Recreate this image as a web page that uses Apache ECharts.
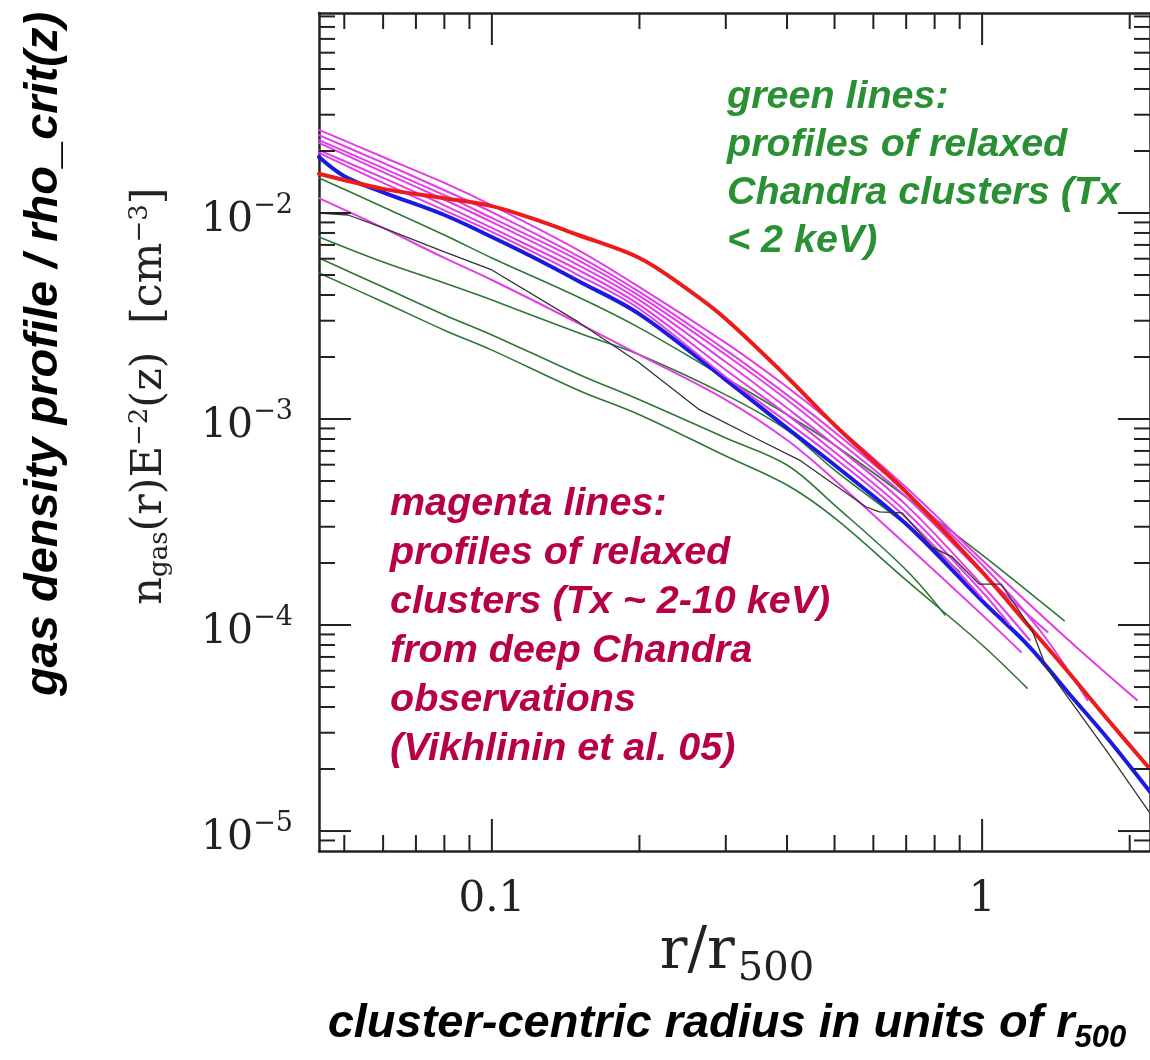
<!DOCTYPE html>
<html>
<head>
<meta charset="utf-8">
<script src="https://cdn.jsdelivr.net/npm/echarts@6/dist/echarts.min.js"></script>
<style>
  html, body { margin: 0; padding: 0; background: #fff; }
  #chart { width: 1150px; height: 1060px; }
</style>
</head>
<body>
<div id="chart"></div>
<script>
// Axis ranges (r / r500 and n_gas E^-2(z) in cm^-3)
const R_MIN = 0.0444, R_MAX = 2.2;
const N_MIN = 8e-6, N_MAX = 0.0935;

// Tick positions
const rMajorTicks = [0.1, 1];
const rMinorTicks = [0.05, 0.06, 0.07, 0.08, 0.09, 0.2, 0.3, 0.4, 0.5, 0.6, 0.7, 0.8, 0.9, 2];
const nMajorTicks = [1e-5, 1e-4, 1e-3, 1e-2];
const nMinorTicks = [
  9e-6,
  2e-5, 3e-5, 4e-5, 5e-5, 6e-5, 7e-5, 8e-5, 9e-5,
  2e-4, 3e-4, 4e-4, 5e-4, 6e-4, 7e-4, 8e-4, 9e-4,
  2e-3, 3e-3, 4e-3, 5e-3, 6e-3, 7e-3, 8e-3, 9e-3,
  2e-2, 3e-2, 4e-2, 5e-2, 6e-2, 7e-2, 8e-2, 9e-2
];

// Red profile
const redR = [0.0444, 0.06, 0.08, 0.1, 0.12, 0.15, 0.2, 0.25, 0.3, 0.4, 0.5, 0.7, 1.0, 1.25, 1.5, 1.8, 2.2];
const redN = [0.0155, 0.0131, 0.0118, 0.0108, 0.00946, 0.00782, 0.00605, 0.00428, 0.00306, 0.0016, 0.000935, 0.000442, 0.000181, 9.78e-5, 5.9e-5, 3.5e-5, 2.0e-5];

// Blue profile
const blueR = [0.0444, 0.05, 0.06, 0.08, 0.1, 0.12, 0.15, 0.2, 0.3, 0.4, 0.5, 0.7, 1.0, 1.25, 1.5, 1.8, 2.2];
const blueN = [0.0187, 0.0151, 0.0126, 0.00978, 0.00765, 0.00618, 0.00468, 0.00323, 0.00155, 0.000904, 0.000598, 0.000309, 0.000131, 7.82e-5, 4.68e-5, 2.83e-5, 1.55e-5];

// Black profile
const blackR = [0.0444, 0.0509, 0.06, 0.08, 0.1, 0.15, 0.2, 0.265, 0.351, 0.424, 0.58, 0.617, 0.687, 0.791, 0.869, 0.986, 1.093, 1.264, 1.35, 1.79, 2.2];
const blackN = [0.0100, 0.00978, 0.00846, 0.00647, 0.00529, 0.00296, 0.00187, 0.00111, 0.000791, 0.000632, 0.000374, 0.000354, 0.000350, 0.000239, 0.000214, 0.000158, 0.000158, 9.46e-5, 6.25e-5, 2.47e-5, 1.22e-5];

// Green profiles: relaxed Chandra clusters, Tx < 2 keV
const green1R = [0.0444, 0.06, 0.08, 0.1, 0.15, 0.2, 0.3, 0.4, 0.5, 0.7, 1.0, 1.47];
const green1N = [0.0148, 0.0107, 0.00782, 0.00605, 0.00391, 0.00277, 0.00158, 0.00105, 0.000748, 0.000418, 0.000219, 0.000105];
const green2R = [0.0444, 0.06, 0.08, 0.1, 0.15, 0.2, 0.3, 0.4, 0.5, 0.7, 0.9];
const green2N = [0.00765, 0.00578, 0.00457, 0.00378, 0.00262, 0.00205, 0.00131, 0.000884, 0.000565, 0.000306, 0.000181];
const green3R = [0.0444, 0.06, 0.08, 0.1, 0.15, 0.2, 0.3, 0.4, 0.5, 0.7, 0.84];
const green3N = [0.00605, 0.00437, 0.00320, 0.00256, 0.00165, 0.00124, 0.000809, 0.000598, 0.000382, 0.000185, 0.000112];
const green4R = [0.0444, 0.06, 0.08, 0.1, 0.15, 0.2, 0.3, 0.4, 0.5, 0.7, 1.0, 1.235];
const green4N = [0.00511, 0.00370, 0.00270, 0.00216, 0.00138, 0.00105, 0.000661, 0.000478, 0.000331, 0.000165, 8.0e-5, 4.94e-5];

// Magenta profiles: relaxed clusters, Tx ~ 2-10 keV (Vikhlinin et al. 05)
const mag1R = [0.0444, 0.06, 0.08, 0.1, 0.15, 0.2, 0.3, 0.4, 0.5, 0.7, 1.0, 1.5, 2.07];
const mag1N = [0.0253, 0.0187, 0.0140, 0.0109, 0.00661, 0.00437, 0.00234, 0.00143, 0.000935, 0.000465, 0.000207, 8.46e-5, 4.32e-5];
const mag2R = [0.0444, 0.06, 0.08, 0.1, 0.15, 0.2, 0.3, 0.4, 0.5, 0.7, 1.0, 1.31, 1.64];
const mag2N = [0.0239, 0.0175, 0.0129, 0.0101, 0.00618, 0.00414, 0.00216, 0.00131, 0.000865, 0.000440, 0.000196, 9.46e-5, 4.32e-5];
const mag3R = [0.0444, 0.06, 0.08, 0.1, 0.15, 0.2, 0.3, 0.4, 0.5, 0.7, 1.0, 1.36];
const mag3N = [0.0226, 0.0165, 0.0122, 0.00946, 0.00591, 0.00396, 0.00205, 0.00124, 0.000809, 0.000418, 0.000179, 9.25e-5];
const mag4R = [0.0444, 0.06, 0.08, 0.1, 0.15, 0.2, 0.3, 0.4, 0.5, 0.7, 1.0, 1.25];
const mag4N = [0.0219, 0.0158, 0.0116, 0.00904, 0.00559, 0.00378, 0.00189, 0.00113, 0.000748, 0.000382, 0.000156, 8.46e-5];
const mag5R = [0.0444, 0.06, 0.08, 0.1, 0.15, 0.2, 0.3, 0.4, 0.5, 0.7, 1.0, 1.14];
const mag5N = [0.0202, 0.0148, 0.0109, 0.00846, 0.00529, 0.00358, 0.00173, 0.00105, 0.000692, 0.000354, 0.000145, 0.0001];
const mag6R = [0.0444, 0.06, 0.08, 0.1, 0.15, 0.2, 0.3, 0.4, 0.5, 0.7, 1.0];
const mag6N = [0.0196, 0.0140, 0.0103, 0.00809, 0.00500, 0.00342, 0.0016, 0.000967, 0.000647, 0.000331, 0.000135];
const mag7R = [0.0444, 0.06, 0.08, 0.1, 0.15, 0.2, 0.3, 0.4, 0.5, 0.7, 1.0, 1.2];
const mag7N = [0.0118, 0.00846, 0.00605, 0.00473, 0.00292, 0.00205, 0.00124, 0.000791, 0.000506, 0.000245, 0.000112, 7.4e-5];

// Annotation texts
const greenNote = ['green lines:', 'profiles of relaxed', 'Chandra clusters (Tx', '< 2 keV)'];
const magentaNote = ['magenta lines:', 'profiles of relaxed', 'clusters (Tx ~ 2-10 keV)', 'from deep Chandra', 'observations', '(Vikhlinin et al. 05)'];

const INK = '#222';
const SERIF = '"DejaVu Serif", serif';
const SANS = '"Liberation Sans", Arial, sans-serif';

function profile(r, n, color, width, z, smooth) {
  return {
    type: 'line',
    data: r.map((x, i) => [x, n[i]]),
    showSymbol: false,
    symbol: 'none',
    smooth: smooth,
    lineStyle: { color: color, width: width, cap: 'round', join: 'round' },
    z: z,
    silent: true,
    clip: true
  };
}

const GREEN = '#2e7636', MAGENTA = '#e23ee6';
const series = [
  profile(green1R, green1N, GREEN, 1.6, 2, 0.35),
  profile(green2R, green2N, GREEN, 1.6, 2, 0.35),
  profile(green3R, green3N, GREEN, 1.6, 2, 0.35),
  profile(green4R, green4N, GREEN, 1.6, 2, 0.35),
  profile(blueR, blueN, '#1a1ae0', 4, 3, 0.35),
  profile(mag1R, mag1N, MAGENTA, 2, 4, 0.35),
  profile(mag2R, mag2N, MAGENTA, 2, 4, 0.35),
  profile(mag3R, mag3N, MAGENTA, 2, 4, 0.35),
  profile(mag4R, mag4N, MAGENTA, 2, 4, 0.35),
  profile(mag5R, mag5N, MAGENTA, 2, 4, 0.35),
  profile(mag6R, mag6N, MAGENTA, 2, 4, 0.35),
  profile(mag7R, mag7N, MAGENTA, 2, 4, 0.35),
  profile(redR, redN, '#ec1c1c', 4, 5, 0.35),
  profile(blackR, blackN, '#333333', 1.3, 6, false),
  // inward ticks on the bottom and top frame
  {
    type: 'custom',
    silent: true,
    z: 10,
    data: rMajorTicks.map(v => [v, N_MIN, 1]).concat(rMinorTicks.map(v => [v, N_MIN, 0])),
    encode: { x: 0, y: 1 },
    renderItem: function (params, api) {
      const v = api.value(0);
      const len = api.value(2) ? 32 : 16;
      const b = api.coord([v, N_MIN]);
      const t = api.coord([v, N_MAX]);
      const style = { stroke: INK, lineWidth: 2 };
      return {
        type: 'group',
        children: [
          { type: 'line', shape: { x1: b[0], y1: b[1], x2: b[0], y2: b[1] - len }, style: style },
          { type: 'line', shape: { x1: t[0], y1: t[1], x2: t[0], y2: t[1] + len }, style: style }
        ]
      };
    }
  },
  // inward ticks on the left and right frame
  {
    type: 'custom',
    silent: true,
    z: 10,
    data: nMajorTicks.map(v => [R_MIN, v, 1]).concat(nMinorTicks.map(v => [R_MIN, v, 0])),
    encode: { x: 0, y: 1 },
    renderItem: function (params, api) {
      const v = api.value(1);
      const len = api.value(2) ? 32 : 16;
      const l = api.coord([R_MIN, v]);
      const r = api.coord([R_MAX, v]);
      const style = { stroke: INK, lineWidth: 2 };
      return {
        type: 'group',
        children: [
          { type: 'line', shape: { x1: l[0], y1: l[1], x2: l[0] + len, y2: l[1] }, style: style },
          { type: 'line', shape: { x1: r[0], y1: r[1], x2: r[0] - len, y2: r[1] }, style: style }
        ]
      };
    }
  }
];

function isDecade(v) {
  const e = Math.log10(v);
  return Math.abs(e - Math.round(e)) < 1e-6;
}

const frameLine = { show: true, onZero: false, lineStyle: { color: INK, width: 2.5 } };

const option = {
  animation: false,
  backgroundColor: '#fff',
  grid: { left: 319, top: 13, width: 832, height: 838, containLabel: false },
  xAxis: [
    {
      type: 'log', logBase: 10, min: R_MIN, max: R_MAX, position: 'bottom',
      axisLine: frameLine, axisTick: { show: false }, splitLine: { show: false },
      axisLabel: {
        show: true, margin: 28, color: INK, fontFamily: SERIF, fontSize: 42,
        showMinLabel: false, showMaxLabel: false,
        formatter: v => (isDecade(v) ? String(v) : '')
      }
    },
    {
      type: 'log', logBase: 10, min: R_MIN, max: R_MAX, position: 'top',
      axisLine: frameLine, axisTick: { show: false }, splitLine: { show: false },
      axisLabel: { show: false }
    }
  ],
  yAxis: [
    {
      type: 'log', logBase: 10, min: N_MIN, max: N_MAX, position: 'left',
      axisLine: frameLine, axisTick: { show: false }, splitLine: { show: false },
      axisLabel: {
        show: true, margin: 26, showMinLabel: false, showMaxLabel: false,
        formatter: v => (isDecade(v) ? '{b|10}{s|\u2212' + (-Math.round(Math.log10(v))) + '}' : ''),
        rich: {
          b: { fontFamily: SERIF, fontSize: 41, color: INK, lineHeight: 42, padding: [15, 0, 0, 0] },
          s: { fontFamily: SERIF, fontSize: 27, color: INK, lineHeight: 28, verticalAlign: 'top' }
        }
      }
    },
    {
      type: 'log', logBase: 10, min: N_MIN, max: N_MAX, position: 'right',
      axisLine: frameLine, axisTick: { show: false }, splitLine: { show: false },
      axisLabel: { show: false }
    }
  ],
  series: series,
  graphic: [
    // axis title, vertical
    {
      type: 'text', x: 150, y: 396, rotation: Math.PI / 2, silent: true,
      style: {
        text: '{m|n}{sub|gas}{m|(r)E}{sup|\u22122}{m|(z)  [cm}{sup|\u22123}{m|]}',
        align: 'center', verticalAlign: 'middle',
        rich: {
          m: { fontFamily: SERIF, fontSize: 43, fill: INK, lineHeight: 46, padding: [12, 0, 12, 0] },
          sub: { fontFamily: SERIF, fontSize: 26, fill: INK, lineHeight: 28, verticalAlign: 'bottom' },
          sup: { fontFamily: SERIF, fontSize: 26, fill: INK, lineHeight: 28, verticalAlign: 'top' }
        }
      }
    },
    // axis title, horizontal
    {
      type: 'text', x: 737, y: 960, silent: true,
      style: {
        text: '{m|r/r}{sub|500}',
        align: 'center', verticalAlign: 'middle',
        rich: {
          m: { fontFamily: SERIF, fontSize: 58, fill: INK, lineHeight: 60, padding: [0, 3, 14, 0] },
          sub: { fontFamily: SERIF, fontSize: 40, fill: INK, lineHeight: 40, verticalAlign: 'bottom' }
        }
      }
    },
    // outer titles
    {
      type: 'text', x: 44, y: 354, rotation: Math.PI / 2, silent: true,
      style: {
        text: 'gas density profile / rho_crit(z)',
        font: 'italic bold 47px ' + SANS, fill: '#000',
        align: 'center', verticalAlign: 'middle'
      }
    },
    {
      type: 'text', x: 727, y: 1030, silent: true,
      style: {
        text: '{m|cluster-centric radius in units of r}{sub|500}',
        align: 'center', verticalAlign: 'middle',
        rich: {
          m: { fontFamily: SANS, fontStyle: 'italic', fontWeight: 'bold', fontSize: 47, fill: '#000', lineHeight: 48, padding: [0, 0, 12, 0] },
          sub: { fontFamily: SANS, fontStyle: 'italic', fontWeight: 'bold', fontSize: 31, fill: '#000', lineHeight: 30, verticalAlign: 'bottom' }
        }
      }
    },
    // annotations inside the plot
    {
      type: 'text', x: 727, y: 73, silent: true, z: 20,
      style: {
        text: greenNote.join('\n'),
        font: 'italic bold 39.5px ' + SANS, fill: '#2a9034',
        lineHeight: 48, align: 'left', verticalAlign: 'top'
      }
    },
    {
      type: 'text', x: 390, y: 480, silent: true, z: 20,
      style: {
        text: magentaNote.join('\n'),
        font: 'italic bold 39.5px ' + SANS, fill: '#b80047',
        lineHeight: 49, align: 'left', verticalAlign: 'top'
      }
    }
  ]
};

const chart = echarts.init(document.getElementById('chart'), null, { renderer: 'canvas' });
chart.setOption(option);
</script>
</body>
</html>
